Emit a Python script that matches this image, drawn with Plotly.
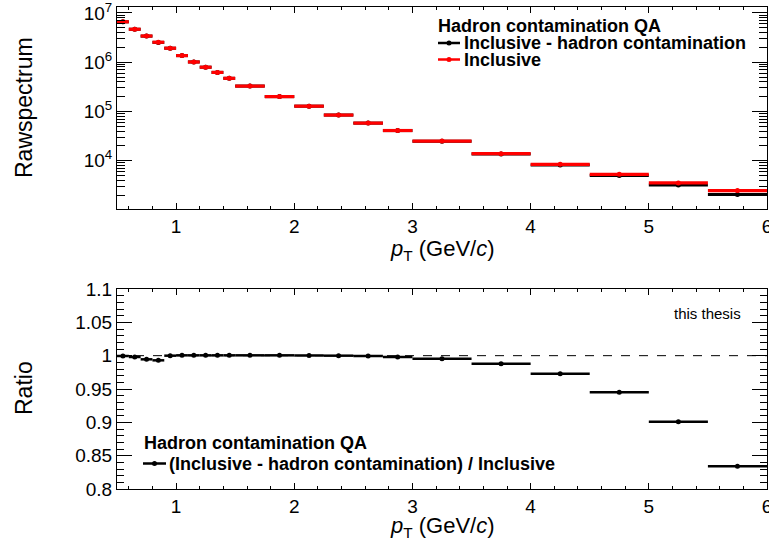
import plotly.graph_objects as go

# pT bin edges (GeV/c)
bin_edges = [0.5, 0.6, 0.7, 0.8, 0.9, 1.0, 1.1, 1.2, 1.3, 1.4, 1.5,
             1.75, 2.0, 2.25, 2.5, 2.75, 3.0, 3.5, 4.0, 4.5, 5.0, 5.5, 6.0]

# raw spectra per bin
inclusive = [6.6e6, 4.66e6, 3.4e6, 2.54e6, 1.92e6, 1.36e6, 1.01e6, 7.9e5, 6.2e5, 4.7e5,
             3.27e5, 2.0e5, 1.28e5, 8.45e4, 5.8e4, 4.1e4, 2.5e4, 1.39e4, 8.45e3, 5.3e3,
             3.55e3, 2.48e3]
inclusive_minus_hadron = [6.597e6, 4.651e6, 3.381e6, 2.522e6, 1.92e6, 1.361e6, 1.011e6, 7.904e5,
                          6.203e5, 4.702e5, 3.272e5, 2.001e5, 1.28e5, 8.45e4, 5.797e4, 4.092e4,
                          2.489e4, 1.373e4, 8.22e3, 5.01e3, 3.2e3, 2.07e3]

# (inclusive - hadron contamination) / inclusive
ratio = [0.9995, 0.998, 0.9945, 0.993, 1.0, 1.0005, 1.0005, 1.0005, 1.0005, 1.0005,
         1.0005, 1.0005, 1.0003, 1.0, 0.9995, 0.998, 0.9955, 0.988, 0.973, 0.945,
         0.901, 0.834]

x_ticks = [1, 2, 3, 4, 5, 6]
x_tick_text = ["1", "2", "3", "4", "5", "6"]
top_y_ticks = [1e4, 1e5, 1e6, 1e7]
top_y_text = ["10<sup>4</sup>", "10<sup>5</sup>", "10<sup>6</sup>", "10<sup>7</sup>"]
bot_y_ticks = [0.8, 0.85, 0.9, 0.95, 1.0, 1.05, 1.1]
bot_y_text = ["0.8", "0.85", "0.9", "0.95", "1", "1.05", "1.1"]

centers = [(a + b) / 2 for a, b in zip(bin_edges[:-1], bin_edges[1:])]
half_w = [(b - a) / 2 for a, b in zip(bin_edges[:-1], bin_edges[1:])]

W, H = 769, 545
L, R = 117, 2
FONT = "Liberation Sans, Arial, Helvetica, sans-serif"


def px(x):
    return (x - L) / (W - L - R)


def py(y):
    return 1 - y / H


def hist_trace(yvals, color, thick, xa, ya):
    return go.Scatter(
        x=centers, y=yvals, mode="markers", xaxis=xa, yaxis=ya, showlegend=False,
        marker=dict(color=color, size=5, symbol="circle"),
        error_x=dict(type="data", array=half_w, visible=True, color=color,
                     thickness=thick, width=0),
        hoverinfo="x+y",
    )


fig = go.Figure()
fig.add_trace(hist_trace(inclusive_minus_hadron, "black", 3, "x", "y"))
fig.add_trace(hist_trace(inclusive, "#ff0000", 3.2, "x", "y"))
fig.add_trace(hist_trace(ratio, "black", 2.5, "x2", "y2"))

tickfont = dict(family=FONT, size=19, color="black")
xcommon = dict(range=[0.5, 6], tickmode="array", tickvals=x_ticks, ticktext=x_tick_text,
               ticks="inside", ticklen=6, tickwidth=1, tickcolor="black",
               minor=dict(ticks="inside", ticklen=3, dtick=0.2, tick0=0, tickcolor="black"),
               showline=True, linecolor="black", linewidth=1, mirror="allticks",
               showgrid=False, zeroline=False, tickfont=tickfont, domain=[0, 1],
               ticklabeloverflow="allow")

fig.update_layout(
    width=W, height=H,
    margin=dict(l=L, r=R, t=0, b=0, autoexpand=False),
    paper_bgcolor="white", plot_bgcolor="white",
    showlegend=False,
    font=dict(family=FONT, color="black"),
    xaxis=dict(**xcommon, anchor="y"),
    yaxis=dict(type="log", range=[3.02, 7.12], domain=[py(209), py(7)], anchor="x",
               tickmode="array", tickvals=top_y_ticks, ticktext=top_y_text,
               ticks="inside", ticklen=15, tickwidth=1, tickcolor="black",
               minor=dict(ticks="inside", ticklen=8, dtick="D1", tickcolor="black"),
               showline=True, linecolor="black", linewidth=1, mirror="allticks",
               showgrid=False, zeroline=False, tickfont=tickfont,
               ticklabeloverflow="allow"),
    xaxis2=dict(**xcommon, anchor="y2"),
    yaxis2=dict(range=[0.8, 1.1], domain=[py(489), py(289)], anchor="x2",
                tickmode="array", tickvals=bot_y_ticks, ticktext=bot_y_text,
                ticks="inside", ticklen=15, tickwidth=1, tickcolor="black",
                minor=dict(ticks="inside", ticklen=7, dtick=0.01, tick0=0.8, tickcolor="black"),
                showline=True, linecolor="black", linewidth=1, mirror="allticks",
                showgrid=False, zeroline=False, tickfont=tickfont,
                ticklabeloverflow="allow"),
)

# unity reference line in the ratio panel
fig.add_shape(type="line", xref="x2", yref="y2", x0=0.5, x1=6, y0=1, y1=1,
              line=dict(color="black", width=1, dash="dash"), layer="below")

ann = []
xtitle = "<i>p</i><sub>T</sub> (GeV/<i>c</i>)"
for yc in (250, 527):
    ann.append(dict(text=xtitle, x=px(442), y=py(yc), xref="paper", yref="paper",
                    xanchor="center", yanchor="middle", showarrow=False,
                    font=dict(family=FONT, size=22)))
for txt, yc in (("Rawspectrum", 108), ("Ratio", 388)):
    ann.append(dict(text=txt, x=px(24), y=py(yc), xref="paper", yref="paper",
                    xanchor="center", yanchor="middle", textangle=-90, showarrow=False,
                    font=dict(family=FONT, size=23)))

bold = dict(family=FONT, size=18, color="black")


def legend_block(x_head, y_head, x_line0, x_line1, x_text, entries):
    ann.append(dict(text="<b>Hadron contamination QA</b>", x=px(x_head), y=py(y_head),
                    xref="paper", yref="paper", xanchor="left", yanchor="middle",
                    showarrow=False, font=bold))
    for label, color, yc in entries:
        fig.add_shape(type="line", xref="paper", yref="paper",
                      x0=px(x_line0), x1=px(x_line1), y0=py(yc), y1=py(yc),
                      line=dict(color=color, width=2.5))
        xm = (x_line0 + x_line1) / 2
        fig.add_shape(type="circle", xref="paper", yref="paper",
                      x0=px(xm - 2.5), x1=px(xm + 2.5), y0=py(yc + 2.5), y1=py(yc - 2.5),
                      fillcolor=color, line=dict(color=color, width=0))
        ann.append(dict(text=f"<b>{label}</b>", x=px(x_text), y=py(yc), xref="paper",
                        yref="paper", xanchor="left", yanchor="middle", showarrow=False,
                        font=bold))


legend_block(436, 26, 438, 460, 462,
             [("Inclusive - hadron contamination", "black", 43),
              ("Inclusive", "#ff0000", 59.5)])
legend_block(142, 443, 143, 166, 167,
             [("(Inclusive - hadron contamination) / Inclusive", "black", 463.5)])

ann.append(dict(text="this thesis", x=px(672), y=py(313), xref="paper", yref="paper",
                xanchor="left", yanchor="middle", showarrow=False,
                font=dict(family=FONT, size=15)))

fig.update_layout(annotations=ann)
fig.write_html("out.html")
